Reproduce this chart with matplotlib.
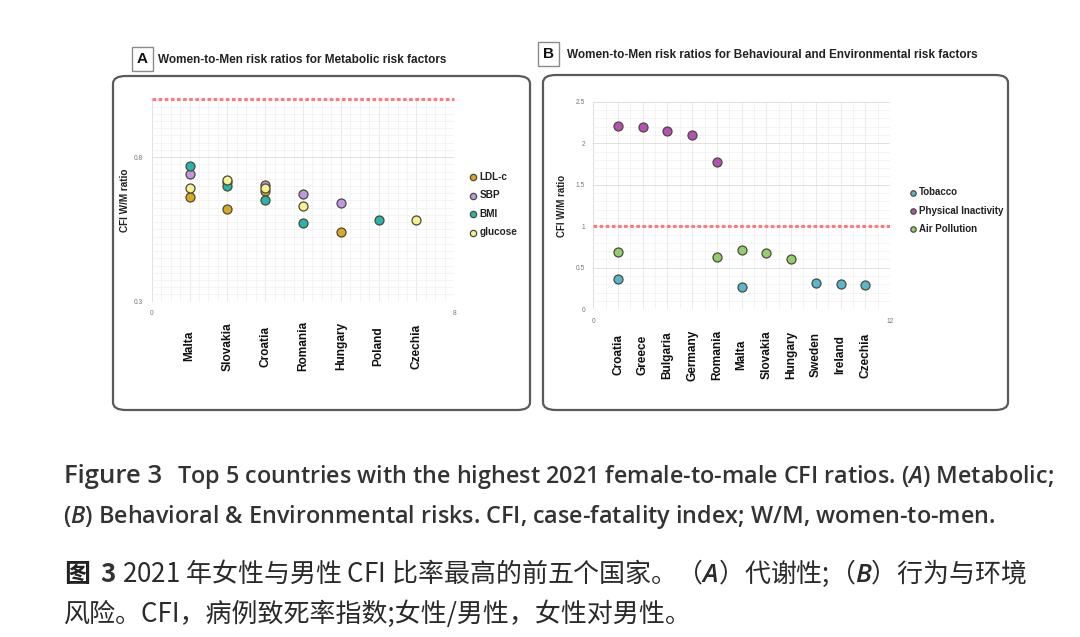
import numpy as np
import matplotlib
matplotlib.use("Agg")
import matplotlib.pyplot as plt
from matplotlib.patches import FancyBboxPatch, Rectangle
from matplotlib.ticker import MultipleLocator, FixedLocator
import matplotlib.transforms as mtrans

plt.rcParams['font.family'] = ['Liberation Sans', 'DejaVu Sans']
plt.rcParams['mathtext.fontset'] = 'custom'
plt.rcParams['mathtext.rm'] = 'Open Sans'
plt.rcParams['mathtext.it'] = 'Open Sans:italic:semibold'

# panel A data
countries_a = ['Malta', 'Slovakia', 'Croatia', 'Romania', 'Hungary', 'Poland', 'Czechia']
# positions in the list above (1-based), value
ldl_x = [1, 2, 3, 5]
ldl_y = [0.663, 0.621, 0.683, 0.541]
sbp_x = [1, 2, 3, 4, 5]
sbp_y = [0.741, 0.713, 0.702, 0.672, 0.641]
bmi_x = [1, 2, 3, 4, 6]
bmi_y = [0.771, 0.701, 0.651, 0.571, 0.581]
glu_x = [1, 2, 3, 4, 7]
glu_y = [0.693, 0.722, 0.693, 0.632, 0.581]

# panel B data
countries_b = ['Croatia', 'Greece', 'Bulgaria', 'Germany', 'Romania', 'Malta',
               'Slovakia', 'Hungary', 'Sweden', 'Ireland', 'Czechia']
tob_x = [1, 6, 9, 10, 11]
tob_y = [0.36, 0.27, 0.32, 0.30, 0.295]
phys_x = [1, 2, 3, 4, 5]
phys_y = [2.207, 2.19, 2.15, 2.10, 1.77]
air_x = [1, 5, 6, 7, 8]
air_y = [0.69, 0.63, 0.71, 0.68, 0.61]

W, H = 1080, 637
fig = plt.figure(figsize=(W / 100, H / 100), dpi=100)
fig.patch.set_facecolor('white')


def fx(px):
    return px / W


def fy(py):
    return 1 - py / H


# rounded frames around the two panels
for x0, y0, x1, y1 in [(113, 76, 530, 410), (543, 75, 1008, 410)]:
    box = FancyBboxPatch((fx(x0), fy(y1)), fx(x1 - x0), (y1 - y0) / H,
                         boxstyle="round,pad=0,rounding_size=0.012",
                         transform=fig.transFigure, fill=False,
                         edgecolor='#5a5a5a', linewidth=1.6)
    fig.add_artist(box)

# letter boxes and titles
for letter, bx, by, tx, title in [
        ('A', 132, 47, 158, 'Women-to-Men risk ratios for Metabolic risk factors'),
        ('B', 538, 42, 567, 'Women-to-Men risk ratios for Behavioural and Environmental risk factors')]:
    fig.add_artist(Rectangle((fx(bx), fy(by + 24)), fx(21), 24 / H,
                             transform=fig.transFigure, fill=False,
                             edgecolor='#8a8a8a', linewidth=1.0))
    fig.text(fx(bx + 10.5), fy(by + 12), letter, ha='center', va='center',
             fontsize=11, fontweight='bold', color='#111111')
    fig.text(fx(tx), fy(by + 13), title, ha='left', va='center',
             fontsize=8.5, fontweight='bold', color='#222222')


def style_axes(ax):
    for s in ax.spines.values():
        s.set_visible(False)
    ax.tick_params(axis='both', which='both', length=0, labelsize=4.8,
                   labelcolor='#777777', pad=6)
    ax.grid(True, which='major', color='#dcdcdc', linewidth=0.6)
    ax.grid(True, which='minor', color='#f0f0f0', linewidth=0.5)
    ax.set_axisbelow(True)


def country_labels(ax, names, y_axes):
    trans = mtrans.blended_transform_factory(ax.transData, ax.transAxes)
    for i, name in enumerate(names):
        ax.text(i + 1, y_axes, name, transform=trans, rotation=90,
                ha='center', va='center', fontsize=8.6, fontweight='bold',
                color='#111111')


def style_legend(leg):
    for t in leg.get_texts():
        t.set_fontweight('bold')
        t.set_color('#222222')


mk = dict(s=42, edgecolors='#4a4a3a', linewidths=0.9, zorder=3)

# ---- panel A
axA = fig.add_axes([fx(151.7), fy(301.7), fx(454.3 - 151.7), (301.7 - 99.3) / H])
style_axes(axA)
axA.set_xlim(0, 8)
axA.set_ylim(0.3, 1.0)
axA.xaxis.set_major_locator(FixedLocator([0, 8]))
axA.xaxis.set_minor_locator(MultipleLocator(0.25))
axA.yaxis.set_major_locator(FixedLocator([0.3, 0.8]))
axA.yaxis.set_minor_locator(MultipleLocator(0.025))
for xv in range(1, 8):
    axA.axvline(xv, color='#dcdcdc', linewidth=0.6, zorder=0)
axA.axhline(1.0, color='#ff7b7b', linestyle=(0, (1.2, 0.8)), linewidth=2.2, zorder=2,
            clip_on=False)
axA.scatter(ldl_x, ldl_y, color='#d8a91e', label='LDL-c', **mk)
axA.scatter(sbp_x, sbp_y, color='#c296e2', label='SBP', **mk)
axA.scatter(bmi_x, bmi_y, color='#26b5ad', label='BMI', **mk)
axA.scatter(glu_x, glu_y, color='#f6f08e', label='glucose', **mk)
axA.set_ylabel('CFI W/M ratio', fontsize=7.2, fontweight='bold', color='#222222',
               labelpad=3)
country_labels(axA, countries_a, -0.22)
legA = axA.legend(loc='center left', bbox_to_anchor=(1.035, 0.48), frameon=False,
                  fontsize=7.2, handlelength=0.8, handletextpad=0.25,
                  labelspacing=0.85, markerscale=0.7, borderaxespad=0)
style_legend(legA)

# ---- panel B
axB = fig.add_axes([fx(593.3), fy(309.3), fx(890 - 593.3), (309.3 - 101.7) / H])
style_axes(axB)
axB.set_xlim(0, 12)
axB.set_ylim(0, 2.5)
axB.xaxis.set_major_locator(FixedLocator([0, 12]))
axB.xaxis.set_minor_locator(MultipleLocator(0.5))
axB.yaxis.set_minor_locator(MultipleLocator(0.1))
axB.set_yticks([0, 0.5, 1, 1.5, 2, 2.5])
axB.set_yticklabels(['0', '0.5', '1', '1.5', '2', '2.5'])
for xv in range(1, 12):
    axB.axvline(xv, color='#dcdcdc', linewidth=0.6, zorder=0)
axB.axhline(1.0, color='#ff7b7b', linestyle=(0, (1.2, 0.8)), linewidth=2.2, zorder=2)
axB.scatter(tob_x, tob_y, color='#55b8cf', label='Tobacco', **mk)
axB.scatter(phys_x, phys_y, color='#b84fb6', label='Physical Inactivity', **mk)
axB.scatter(air_x, air_y, color='#92cf6c', label='Air Pollution', **mk)
axB.set_ylabel('CFI W/M ratio', fontsize=7.0, fontweight='bold', color='#222222',
               labelpad=6)
country_labels(axB, countries_b, -0.22)
legB = axB.legend(loc='center left', bbox_to_anchor=(1.05, 0.475), frameon=False,
                  fontsize=7.0, handlelength=0.8, handletextpad=0.25,
                  labelspacing=0.85, markerscale=0.6, borderaxespad=0)
style_legend(legB)

# ---- caption
en = ['Open Sans', 'Noto Sans', 'DejaVu Sans']
cjk = ['Noto Sans CJK SC', 'DejaVu Sans']
col = '#333333'
fig.text(fx(64), fy(483), 'Figure 3', ha='left', va='baseline', fontsize=18.5,
         fontweight='semibold', color=col, family=en)
fig.text(fx(177), fy(483),
         'Top 5 countries with the highest 2021 female-to-male CFI ratios. ($\\it{A}$) Metabolic;',
         ha='left', va='baseline', fontsize=16.8, fontweight='semibold', color=col, family=en)
fig.text(fx(63), fy(523),
         '($\\it{B}$) Behavioral & Environmental risks. CFI, case-fatality index; W/M, women-to-men.',
         ha='left', va='baseline', fontsize=16.8, fontweight='semibold', color=col, family=en)
fig.text(fx(64), fy(582), '图', ha='left', va='baseline', fontsize=18.7,
         fontweight='bold', color='#222222', family=cjk)
fig.text(fx(100), fy(582), '3', ha='left', va='baseline', fontsize=18.7,
         fontweight='bold', color=col, family=cjk)
fig.text(fx(122), fy(582),
         '2021 年女性与男性 CFI 比率最高的前五个国家。（$\\it{A}$）代谢性;（$\\it{B}$）行为与环境',
         ha='left', va='baseline', fontsize=18.7, color='#2a2a2a', family=cjk)
fig.text(fx(64), fy(622), '风险。CFI，病例致死率指数;女性/男性，女性对男性。',
         ha='left', va='baseline', fontsize=18.7, color='#2a2a2a', family=cjk)

fig.savefig('out.png', dpi=100, facecolor='white')
